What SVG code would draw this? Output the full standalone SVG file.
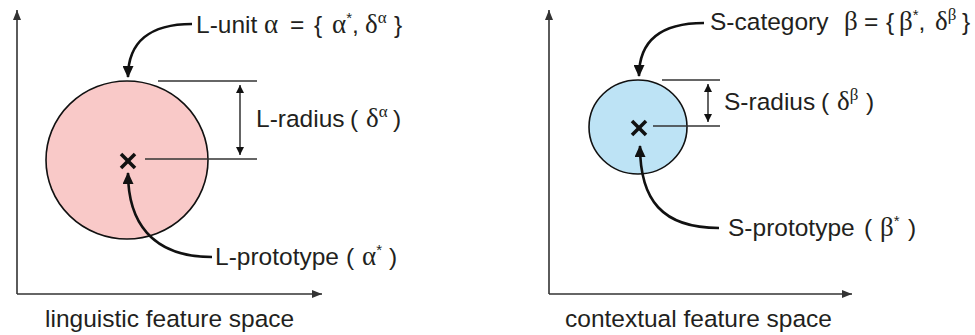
<svg xmlns="http://www.w3.org/2000/svg" width="975" height="335" viewBox="0 0 975 335">
<style>
text{font-family:"Liberation Sans",Arial,sans-serif;font-size:24.5px;fill:#231f20}
.g{font-family:"Liberation Serif","Times New Roman",serif;font-size:27px}
.sup{font-size:15px}
.g.sup{font-size:17px}
.axis{stroke:#333;stroke-width:1.6;fill:none}
.guide{stroke:#333;stroke-width:1.3;fill:none}
.curve{stroke:#111;stroke-width:2.6;fill:none}
.dbl{stroke:#111;stroke-width:1.3;fill:none}
.xm{stroke:#111;stroke-width:3.6;stroke-linecap:butt}
.circ{stroke:#111;stroke-width:1.6}
</style>
<defs>
<marker id="ah" markerUnits="userSpaceOnUse" markerWidth="12" markerHeight="11" refX="11" refY="5.5" orient="auto"><path d="M0,0 L12,5.5 L0,11 z" fill="#111"/></marker>
<marker id="axh" markerUnits="userSpaceOnUse" markerWidth="10" markerHeight="8" refX="10" refY="4" orient="auto"><path d="M0,0 L10,4 L0,8 z" fill="#333"/></marker>
<marker id="sh" markerUnits="userSpaceOnUse" markerWidth="8" markerHeight="8" refX="8" refY="4" orient="auto-start-reverse"><path d="M0,0 L8,4 L0,8 z" fill="#111"/></marker>
</defs>

<g id="left-axes">
<path class="axis" d="M17,294 L17,10" marker-end="url(#axh)"/>
<path class="axis" d="M17,294 L322,294" marker-end="url(#axh)"/>
</g>
<g id="right-axes">
<path class="axis" d="M549,294 L549,10" marker-end="url(#axh)"/>
<path class="axis" d="M549,294 L852,294" marker-end="url(#axh)"/>
</g>

<g id="l-unit">
<ellipse class="circ" cx="127" cy="160" rx="81" ry="79" fill="#f9c9c8"/>
</g>
<g id="l-proto-mark">
<line class="xm" x1="121" y1="154" x2="135" y2="168"/>
<line class="xm" x1="135" y1="154" x2="121" y2="168"/>
</g>
<g id="s-category">
<ellipse class="circ" cx="638" cy="127" rx="49" ry="47" fill="#bde3f5"/>
</g>
<g id="s-proto-mark">
<line class="xm" x1="632" y1="121" x2="646" y2="135"/>
<line class="xm" x1="646" y1="121" x2="632" y2="135"/>
</g>

<g id="guides">
<line class="guide" x1="158" y1="81" x2="257" y2="81"/>
<line class="guide" x1="145" y1="159" x2="257" y2="159"/>
<line class="guide" x1="662" y1="80" x2="720" y2="80"/>
<line class="guide" x1="653" y1="126" x2="720" y2="126"/>
</g>

<g id="connectors">
<path class="curve" d="M192,24 C150,24 128,42 128,77" marker-end="url(#ah)"/>
<path class="curve" d="M212,257 C150,257 128,220 128,173" marker-end="url(#ah)"/>
<path class="curve" d="M704,23 C662,23 639,40 639,76" marker-end="url(#ah)"/>
<path class="curve" d="M719,228 C662,228 640,200 640,146" marker-end="url(#ah)"/>
<path class="dbl" d="M240,85 L240,155" marker-start="url(#sh)" marker-end="url(#sh)"/>
<path class="dbl" d="M708,84 L708,122" marker-start="url(#sh)" marker-end="url(#sh)"/>
</g>

<g id="l-unit-label">
<text x="196" y="33">L-unit <tspan class="g" x="264">α</tspan><tspan x="290">=</tspan><tspan x="314">{</tspan><tspan class="g" x="332">α</tspan><tspan class="sup" dy="-10">*</tspan><tspan dy="10">,</tspan><tspan class="g" x="365">δ</tspan><tspan class="g sup" dy="-10">α</tspan><tspan dy="10" x="394">}</tspan></text>
</g>
<g id="l-radius-label">
<text x="256" y="127">L-radius <tspan x="350">(</tspan><tspan class="g" x="366">δ</tspan><tspan class="g sup" dy="-10">α</tspan><tspan dy="10" x="393">)</tspan></text>
</g>
<g id="l-proto-label">
<text x="215" y="265">L-prototype <tspan x="346">(</tspan><tspan class="g" x="362">α</tspan><tspan class="sup" dy="-10">*</tspan><tspan dy="10" x="389">)</tspan></text>
</g>
<text x="45" y="327">linguistic feature space</text>

<g id="s-category-label">
<text x="710" y="30">S-category <tspan class="g" x="844">β</tspan><tspan x="864">=</tspan><tspan x="886">{</tspan><tspan class="g" x="899">β</tspan><tspan class="sup" dy="-10">*</tspan><tspan dy="10">,</tspan><tspan class="g" x="935">δ</tspan><tspan class="g sup" dy="-10">β</tspan><tspan dy="10" x="962">}</tspan></text>
</g>
<g id="s-radius-label">
<text x="724" y="110">S-radius <tspan x="821">(</tspan><tspan class="g" x="837">δ</tspan><tspan class="g sup" dy="-10">β</tspan><tspan dy="10" x="866">)</tspan></text>
</g>
<g id="s-proto-label">
<text x="728" y="236">S-prototype <tspan x="864">(</tspan><tspan class="g" x="880">β</tspan><tspan class="sup" dy="-10">*</tspan><tspan dy="10" x="908">)</tspan></text>
</g>
<text x="565" y="327">contextual feature space</text>
</svg>
